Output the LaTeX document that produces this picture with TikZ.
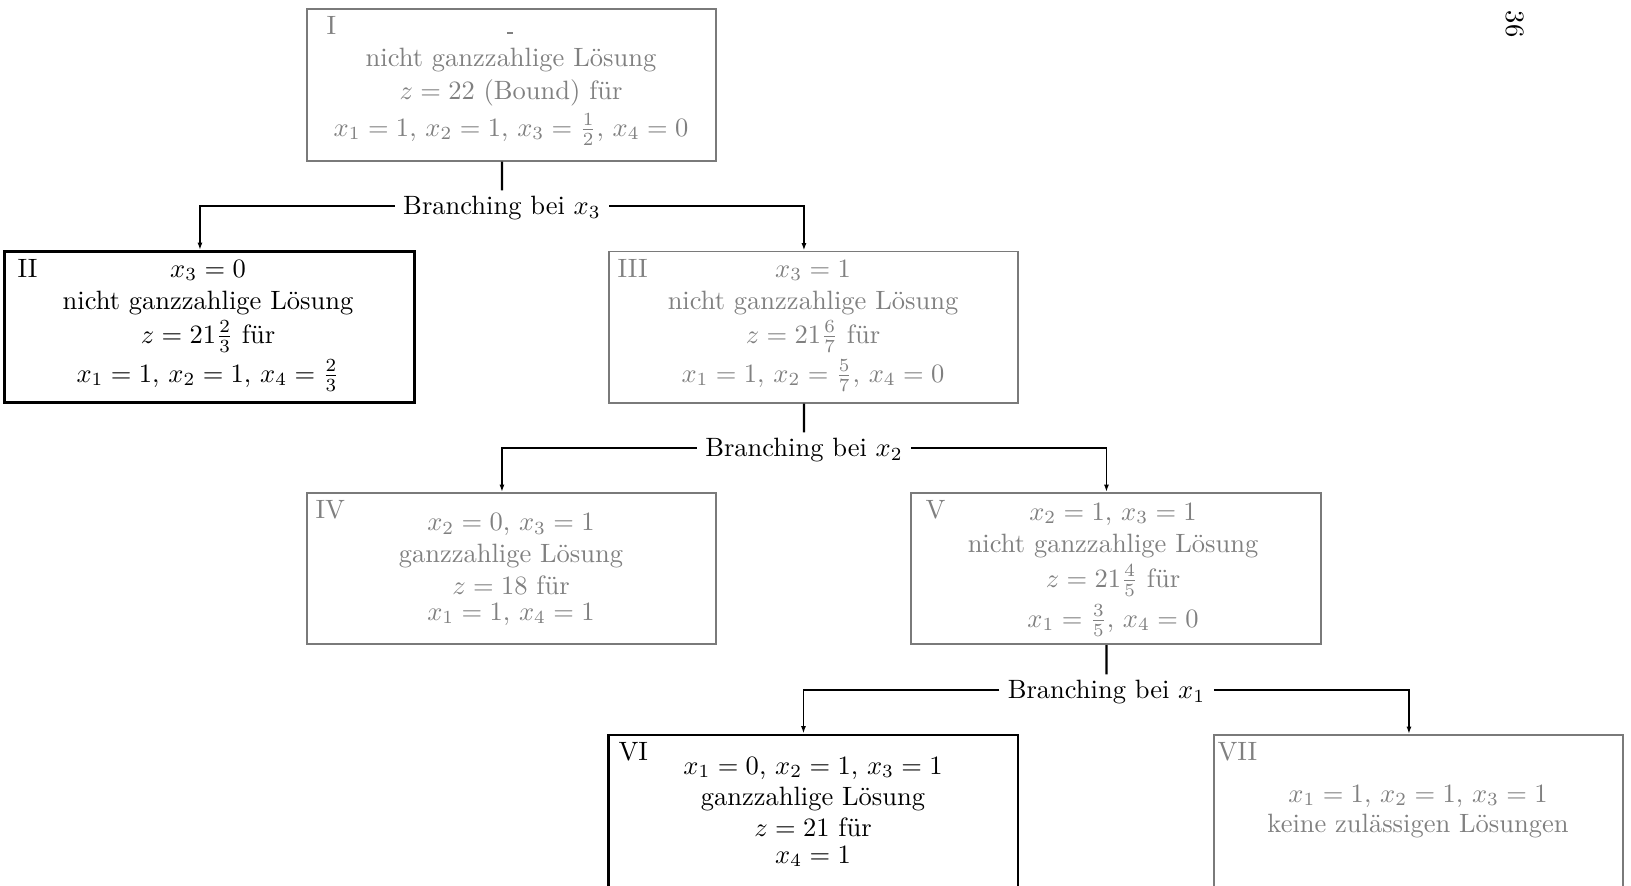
\documentclass[tikz,border=0pt]{standalone}
\usepackage{fontspec}
\usetikzlibrary{arrows.meta}
\begin{document}
\begin{tikzpicture}[x=0.3774pt,y=-0.3774pt,
  gbox/.style={draw=black!52,line width=0.75pt,minimum width=154.7pt,minimum height=57pt,inner sep=0pt},
  bbox/.style={draw=black,line width=1.1pt,minimum width=154.7pt,minimum height=57pt,inner sep=0pt},
  gtxt/.style={text=black!50,anchor=base,inner sep=0pt},
  btxt/.style={text=black,anchor=base,inner sep=0pt},
  gnum/.style={text=black!50,anchor=base west,inner sep=0pt},
  bnum/.style={text=black,anchor=base west,inner sep=0pt},
  branch/.style={inner xsep=3pt,inner ysep=0.6pt,text height=8.2pt,text depth=2pt},
  stub/.style={line width=0.9pt},
  conn/.style={line width=0.6pt,-{Latex[length=2.8pt,width=1.9pt]}},
]
\useasboundingbox (0,0) rectangle (1631,885);

% boxes
\node[gbox] (I) at (511.5,85) {};
\node[bbox] (II) at (209.5,327) {};
\node[gbox] (III) at (813.5,327) {};
\node[gbox] (IV) at (511.5,568.5) {};
\node[gbox] (V) at (1116,568.5) {};
\node[bbox,minimum height=60.4pt] (VI) at (813,815) {};
\node[gbox,minimum height=60.4pt] (VII) at (1418.5,815) {};

% numerals
\node[gnum] (nI) at (326,34) {I};
\node[bnum] (nII) at (17,277) {II};
\node[gnum] (nIII) at (617,277) {III};
\node[gnum] (nIV) at (315,518) {IV};
\node[gnum] (nV) at (925,518) {V};
\node[bnum] (nVI) at (618,760) {VI};
\node[gnum] (nVII) at (1217,760) {VII};

% box I
\fill[black!50] (507,32) rectangle (513,34);
\node[gtxt] (I1) at (511,66) {nicht ganzzahlige Lösung};
\node[gtxt] (I2) at (511,99) {$z=22$ (Bound) für};
\node[gtxt] (I3) at (511,136) {$x_1=1$, $x_2=1$, $x_3=\frac{1}{2}$, $x_4=0$};

% box II
\node[btxt] (II0) at (208,277) {$x_3=0$};
\node[btxt] (II1) at (208,309) {nicht ganzzahlige Lösung};
\node[btxt] (II2) at (208,343) {$z=21\frac{2}{3}$ für};
\node[btxt] (II3) at (208,382) {$x_1=1$, $x_2=1$, $x_4=\frac{2}{3}$};

% box III
\node[gtxt] (III0) at (813,277) {$x_3=1$};
\node[gtxt] (III1) at (813,309) {nicht ganzzahlige Lösung};
\node[gtxt] (III2) at (813,343) {$z=21\frac{6}{7}$ für};
\node[gtxt] (III3) at (813,382) {$x_1=1$, $x_2=\frac{5}{7}$, $x_4=0$};

% box IV
\node[gtxt] (IV0) at (511,530.5) {$x_2=0$, $x_3=1$};
\node[gtxt] (IV1) at (511,562) {ganzzahlige Lösung};
\node[gtxt] (IV2) at (511,594) {$z=18$ für};
\node[gtxt] (IV3) at (511,620) {$x_1=1$, $x_4=1$};

% box V
\node[gtxt] (V0) at (1113,520) {$x_2=1$, $x_3=1$};
\node[gtxt] (V1) at (1113,552) {nicht ganzzahlige Lösung};
\node[gtxt] (V2) at (1113,587) {$z=21\frac{4}{5}$ für};
\node[gtxt] (V3) at (1113,627) {$x_1=\frac{3}{5}$, $x_4=0$};

% box VI
\node[btxt] (VI0) at (813,774) {$x_1=0$, $x_2=1$, $x_3=1$};
\node[btxt] (VI1) at (813,805) {ganzzahlige Lösung};
\node[btxt] (VI2) at (813,836) {$z=21$ für};
\node[btxt] (VI3) at (813,863) {$x_4=1$};

% box VII
\node[gtxt] (VII0) at (1418,802) {$x_1=1$, $x_2=1$, $x_3=1$};
\node[gtxt] (VII1) at (1418,832) {keine zulässigen Lösungen};

% branching labels
\node[branch] (B1) at (502,206) {Branching bei $x_3$};
\node[branch] (B2) at (804,448) {Branching bei $x_2$};
\node[branch] (B3) at (1106.5,690) {Branching bei $x_1$};

% connectors
\draw[stub] ([xshift=-3.6pt]I.south) -- (B1);
\draw[conn] (B1.west) -| ([xshift=-3.6pt]II.north);
\draw[conn] (B1.east) -| ([xshift=-3.6pt]III.north);
\draw[stub] ([xshift=-3.6pt]III.south) -- (B2);
\draw[conn] (B2.west) -| ([xshift=-3.6pt]IV.north);
\draw[conn] (B2.east) -| ([xshift=-3.6pt]V.north);
\draw[stub] ([xshift=-3.6pt]V.south) -- (B3);
\draw[conn] (B3.west) -| ([xshift=-3.6pt]VI.north);
\draw[conn] (B3.east) -| ([xshift=-3.6pt]VII.north);

% page number
\node[rotate=-90] (pg) at (1515,24) {36};
\end{tikzpicture}
\end{document}
